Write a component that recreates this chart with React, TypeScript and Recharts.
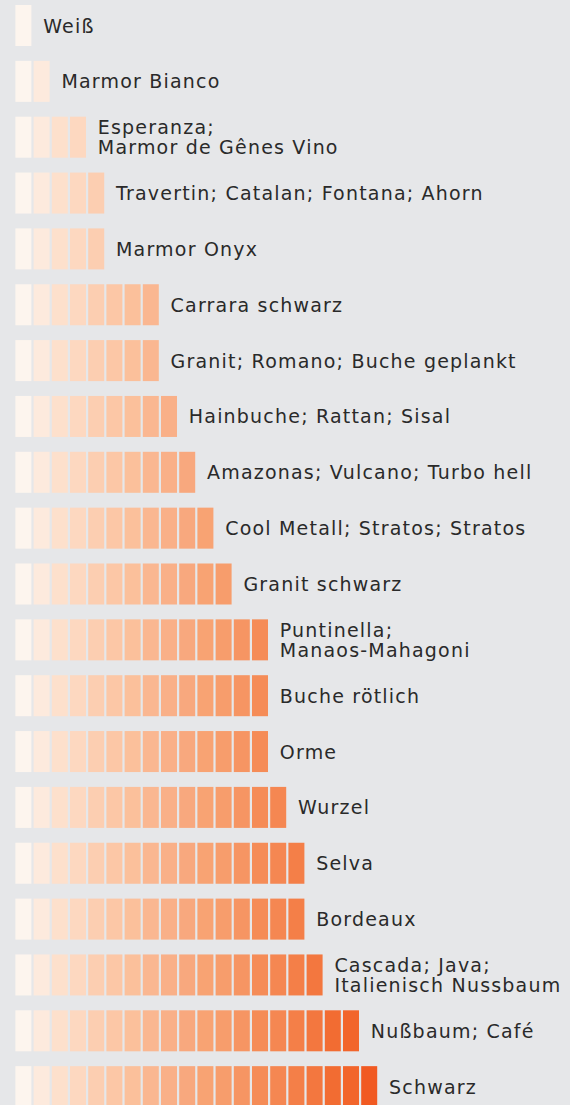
import React from 'react';
import { BarChart, Bar, XAxis, YAxis } from 'recharts';

const finishes: string[] = [
  'Weiß',
  'Marmor Bianco',
  'Esperanza;\nMarmor de Gênes Vino',
  'Travertin; Catalan; Fontana; Ahorn',
  'Marmor Onyx',
  'Carrara schwarz',
  'Granit; Romano; Buche geplankt',
  'Hainbuche; Rattan; Sisal',
  'Amazonas; Vulcano; Turbo hell',
  'Cool Metall; Stratos; Stratos',
  'Granit schwarz',
  'Puntinella;\nManaos-Mahagoni',
  'Buche rötlich',
  'Orme',
  'Wurzel',
  'Selva',
  'Bordeaux',
  'Cascada; Java;\nItalienisch Nussbaum',
  'Nußbaum; Café',
  'Schwarz',
];

const levels: number[] = [1, 2, 4, 5, 5, 8, 8, 9, 10, 11, 12, 14, 14, 14, 15, 16, 16, 17, 19, 20];

const stepColors: string[] = [
  '#fdf5ee', '#fdeadd', '#fde0cc', '#fdd8c0', '#fcceb1',
  '#fcc7a6', '#fbc09b', '#fab791', '#f9b088', '#f8a87e',
  '#f8a373', '#f79d6c', '#f69563', '#f58c57', '#f58752',
  '#f47f48', '#f3773f', '#f26c32', '#f2652b', '#f15a22',
];

const stepKeys = stepColors.map((_, i) => `s${i + 1}`);

const rows = finishes.map((name, r) => {
  const row: Record<string, any> = { name, level: levels[r] };
  stepKeys.forEach((key, i) => {
    row[key] = i + 1 <= levels[r] ? 1 : 0;
  });
  return row;
});

const BG = '#e6e7e9';
const TEXT = '#2a2a2a';

const makeShape = (step: number, color: string) => (props: any) => {
  const { x, y, width, height, index } = props;
  if (!width || width <= 0) return <g />;
  const isLast = levels[index] === step;
  const lines = String(finishes[index]).split('\n');
  const cy = y + height / 2;
  const lineH = 20;
  const tx = x + width + 10;
  return (
    <g>
      <rect x={x + 0.4} y={y} width={width - 2.2} height={height} fill={color} />
      {isLast && (
        <text
          x={tx}
          y={cy - ((lines.length - 1) * lineH) / 2 + 7}
          fill={TEXT}
          fontFamily="'DejaVu Sans', sans-serif"
          fontSize={19}
          letterSpacing={1.2}
        >
          {lines.map((ln, i) => (
            <tspan key={i} x={tx} dy={i === 0 ? 0 : lineH}>
              {ln}
            </tspan>
          ))}
        </text>
      )}
    </g>
  );
};

export default function App() {
  return (
    <div
      style={{
        position: 'absolute',
        left: 0,
        top: 0,
        width: 570,
        height: 1105,
        background: BG,
        overflow: 'hidden',
      }}
    >
      <div style={{ position: 'absolute', left: 0, top: -2 }}>
        <BarChart
          width={570}
          height={1117}
          data={rows}
          layout="vertical"
          margin={{ top: 0, right: 9, left: 15, bottom: 0 }}
          barSize={41}
        >
          <XAxis type="number" domain={[0, 30]} hide />
          <YAxis type="category" dataKey="name" hide />
          {stepKeys.map((key, i) => (
            <Bar
              key={key}
              dataKey={key}
              stackId="a"
              fill={stepColors[i]}
              isAnimationActive={false}
              shape={makeShape(i + 1, stepColors[i])}
            />
          ))}
        </BarChart>
      </div>
    </div>
  );
}
